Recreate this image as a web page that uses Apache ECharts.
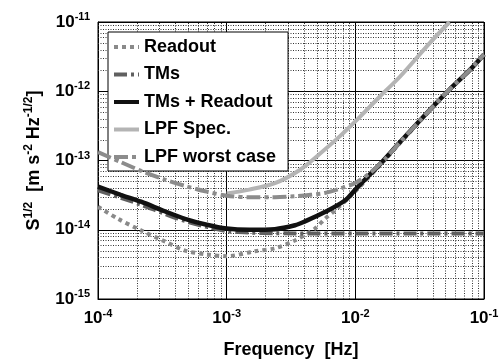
<!DOCTYPE html>
<html>
<head>
<meta charset="utf-8">
<script src="https://cdn.jsdelivr.net/npm/echarts@6/dist/echarts.min.js"></script>
<style>
html,body{margin:0;padding:0;background:#fff;}
#chart{width:503px;height:364px;}
</style>
</head>
<body>
<div id="chart"></div>
<script>
// ---- data ----
var freqReadout = [1e-4, 1.43e-4, 2.16e-4, 3.3e-4, 4.74e-4, 7e-4, 1e-3, 1.66e-3, 2.37e-3, 3.39e-3, 4.85e-3, 5.8e-3, 6.95e-3, 1e-2, 1.55e-2, 2.2e-2, 3.8e-2, 5.4e-2, 7.8e-2, 1e-1];
var readout     = [2.15e-14, 1.44e-14, 9.8e-15, 6.8e-15, 5.0e-15, 4.4e-15, 4.15e-15, 4.9e-15, 5.4e-15, 7.0e-15, 1.04e-14, 1.44e-14, 1.9e-14, 3.6e-14, 8.5e-14, 1.75e-13, 5.3e-13, 1.05e-12, 2.05e-12, 3.4e-12];

var freqTMs = [1e-4, 1.5e-4, 2.16e-4, 3.3e-4, 4.74e-4, 7e-4, 1e-3, 1.5e-3, 2.37e-3, 3.4e-3, 5e-3, 1e-2, 3e-2, 1e-1];
var tms     = [3.7e-14, 2.9e-14, 2.3e-14, 1.7e-14, 1.34e-14, 1.1e-14, 9.6e-15, 9.1e-15, 8.9e-15, 8.85e-15, 8.8e-15, 8.8e-15, 8.8e-15, 8.8e-15];

var freqTotal = [1e-4, 1.5e-4, 2.16e-4, 3.3e-4, 4.74e-4, 7e-4, 1e-3, 1.5e-3, 2.37e-3, 3.4e-3, 4.06e-3, 5.8e-3, 8.3e-3, 1e-2, 1.3e-2, 1.55e-2, 2.2e-2, 3.8e-2, 5.4e-2, 7.8e-2, 1e-1];
var total     = [4.2e-14, 3.2e-14, 2.54e-14, 1.85e-14, 1.44e-14, 1.18e-14, 1.04e-14, 1.0e-14, 1.02e-14, 1.16e-14, 1.32e-14, 1.8e-14, 2.65e-14, 3.8e-14, 6.3e-14, 8.8e-14, 1.8e-13, 5.4e-13, 1.06e-12, 2.05e-12, 3.4e-12];

var freqSpec = [1e-3, 1.5e-3, 2.37e-3, 3.7e-3, 5.3e-3, 7.6e-3, 1.09e-2, 1.55e-2, 2.22e-2, 3.8e-2, 5.4e-2];
var spec     = [3.35e-14, 3.8e-14, 4.7e-14, 7.3e-14, 1.25e-13, 2.25e-13, 4.3e-13, 8.4e-13, 1.62e-12, 5.0e-12, 1.0e-11];

var freqWorst = [1e-4, 1.5e-4, 2.16e-4, 3.3e-4, 4.74e-4, 7e-4, 1e-3, 1.5e-3, 2.37e-3, 3.4e-3, 4.5e-3, 5.8e-3, 7.5e-3, 9.9e-3, 1.3e-2, 1.7e-2, 2.2e-2, 3.8e-2, 5.4e-2, 7.8e-2, 1e-1];
var worst     = [1.32e-13, 9.5e-14, 7.1e-14, 5.3e-14, 4.3e-14, 3.55e-14, 3.1e-14, 2.95e-14, 2.95e-14, 3.05e-14, 3.2e-14, 3.4e-14, 3.9e-14, 4.7e-14, 6.6e-14, 1.05e-13, 1.8e-13, 5.4e-13, 1.06e-12, 2.05e-12, 3.4e-12];

var seriesNames = ['Readout', 'TMs', 'TMs + Readout', 'LPF Spec.', 'LPF worst case'];
var xDecades = [-4, -3, -2];
var yDecades = [-15, -14, -13, -12];
var minorMultipliers = [2, 3, 4, 5, 6, 7, 8, 9];

var X_MIN = 1e-4, X_MAX = 1e-1, Y_MIN = 1e-15, Y_MAX = 1e-11;

function pairs(xs, ys) { return xs.map(function (x, i) { return [x, ys[i]]; }); }

// minor grid: [x, y, kind] kind 0 = vertical line at x, kind 1 = horizontal line at y
var minorGrid = [];
xDecades.forEach(function (d) {
  minorMultipliers.forEach(function (m) { minorGrid.push([m * Math.pow(10, d), 1e-13, 0]); });
});
yDecades.forEach(function (d) {
  minorMultipliers.forEach(function (m) { minorGrid.push([1e-3, m * Math.pow(10, d), 1]); });
});

var FONT = 'Liberation Sans, Arial, sans-serif';
function powLabel(v) {
  var e = Math.round(Math.log10(v));
  return '{b|10}{s|' + e + '}';
}
var tickRich = {
  b: { fontSize: 17, fontWeight: 'bold', fontFamily: FONT, color: '#000' },
  s: { fontSize: 11, fontWeight: 'bold', fontFamily: FONT, color: '#000', padding: [0, 0, 10, 0] }
};
var nameRich = {
  a: { fontSize: 18, fontWeight: 'bold', fontFamily: FONT, color: '#000' },
  s: { fontSize: 12, fontWeight: 'bold', fontFamily: FONT, color: '#000', padding: [0, 0, 10, 0] }
};

var chart = echarts.init(document.getElementById('chart'), null, { renderer: 'canvas' });
var lw = 4;
chart.setOption({
  animation: false,
  backgroundColor: '#fff',
  grid: { left: 98, right: 19, top: 22, bottom: 63, show: true, borderColor: '#000', borderWidth: 1, backgroundColor: 'transparent' },
  legend: {
    data: seriesNames,
    orient: 'vertical',
    left: 108, top: 32,
    padding: [6, 12, 5, 4],
    itemWidth: 25, itemHeight: 14, itemGap: 9.5,
    itemStyle: { opacity: 0 },
    lineStyle: { width: 4 },
    backgroundColor: '#fff', borderColor: '#000', borderWidth: 1, borderRadius: 0,
    textStyle: { fontSize: 18, fontWeight: 'bold', fontFamily: FONT, color: '#000', lineHeight: 14 },
    selectedMode: false
  },
  xAxis: {
    type: 'log', logBase: 10, min: X_MIN, max: X_MAX,
    name: 'Frequency  [Hz]', nameLocation: 'middle', nameGap: 42,
    nameTextStyle: { fontSize: 18, fontWeight: 'bold', fontFamily: FONT, color: '#000' },
    axisLine: { lineStyle: { color: '#000', width: 1 } },
    axisTick: { show: false },
    axisLabel: { formatter: powLabel, rich: tickRich, margin: 9, showMinLabel: true, showMaxLabel: true },
    splitLine: { show: true, lineStyle: { color: '#000', width: 1, type: 'solid' } },
    minorTick: { show: false }, minorSplitLine: { show: false }
  },
  yAxis: {
    type: 'log', logBase: 10, min: Y_MIN, max: Y_MAX,
    name: '{a|S}{s|1/2}{a|  [m s}{s|-2}{a| Hz}{s|-1/2}{a|]}', nameLocation: 'middle', nameGap: 53,
    nameTextStyle: { rich: nameRich },
    axisLine: { lineStyle: { color: '#000', width: 1 } },
    axisTick: { show: false },
    axisLabel: { formatter: powLabel, rich: tickRich, margin: 8, showMinLabel: true, showMaxLabel: true },
    splitLine: { show: true, lineStyle: { color: '#000', width: 1, type: 'solid' } },
    minorTick: { show: false }, minorSplitLine: { show: false }
  },
  series: [
    {
      name: 'minor-grid', type: 'custom', data: minorGrid, z: 1, silent: true,
      encode: { x: 0, y: 1 },
      renderItem: function (params, api) {
        var kind = api.value(2);
        var p1, p2;
        if (kind === 0) {
          p1 = api.coord([api.value(0), Y_MIN]);
          p2 = api.coord([api.value(0), Y_MAX]);
          var x = Math.round(p1[0]) + 0.5;
          return { type: 'line', silent: true, shape: { x1: x, y1: p1[1], x2: x, y2: p2[1] },
            style: { stroke: '#333', lineWidth: 1, lineDash: [1, 1.5] } };
        } else {
          p1 = api.coord([X_MIN, api.value(1)]);
          p2 = api.coord([X_MAX, api.value(1)]);
          var y = Math.round(p1[1]) + 0.5;
          return { type: 'line', silent: true, shape: { x1: p1[0], y1: y, x2: p2[0], y2: y },
            style: { stroke: '#333', lineWidth: 1, lineDash: [1, 1.5] } };
        }
      }
    },
    { name: seriesNames[0], type: 'line', data: pairs(freqReadout, readout), symbol: 'none', smooth: 0.3, z: 2,
      lineStyle: { color: '#8a8a8a', width: lw, type: [4, 4], cap: 'butt' }, itemStyle: { color: '#8a8a8a' } },
    { name: seriesNames[1], type: 'line', data: pairs(freqTMs, tms), symbol: 'none', smooth: 0.3, z: 3,
      lineStyle: { color: '#606060', width: lw, type: [13, 4, 3, 4], cap: 'butt' }, itemStyle: { color: '#606060' } },
    { name: seriesNames[2], type: 'line', data: pairs(freqTotal, total), symbol: 'none', smooth: 0.3, z: 4,
      lineStyle: { color: '#111', width: 4.5 }, itemStyle: { color: '#111' } },
    { name: seriesNames[3], type: 'line', data: pairs(freqSpec, spec), symbol: 'none', smooth: 0.3, z: 5,
      lineStyle: { color: '#b4b4b4', width: lw }, itemStyle: { color: '#b4b4b4' } },
    { name: seriesNames[4], type: 'line', data: pairs(freqWorst, worst), symbol: 'none', smooth: 0.3, z: 6,
      lineStyle: { color: '#8c8c8c', width: lw, type: [14, 4, 4, 4], cap: 'butt' }, itemStyle: { color: '#8c8c8c' } }
  ]
});
</script>
</body>
</html>
